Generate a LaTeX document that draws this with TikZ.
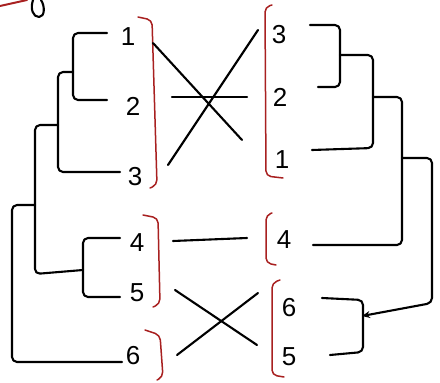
\documentclass[tikz,border=0pt]{standalone}
\usepackage{fontspec}
\setmainfont{Liberation Sans}
\usetikzlibrary{arrows.meta}
\definecolor{brk}{HTML}{A82020}
\begin{document}
\begin{tikzpicture}[x=1pt,y=-1pt, line cap=round, line join=round,
  tree/.style={draw=black, line width=2.1pt, rounded corners=5pt},
  link/.style={draw=black, line width=2.1pt},
  brk/.style={draw=brk, line width=1.5pt, rounded corners=5pt},
  lab/.style={font=\fontsize{26}{26}\selectfont, inner sep=0pt}]
\useasboundingbox (0,0) rectangle (440,383);
% corner fragments
\draw[brk, line width=2pt] (0,6) -- (27,0);
\draw[link] (33,0) .. controls (30,9) and (33,17) .. (39,17) .. controls (45,17) and (45,6) .. (41,0);
% labels left
\node[lab] (L1) at (128,37) {1};
\node[lab] (L2) at (133,106) {2};
\node[lab] (L3) at (135,177) {3};
\node[lab] (L4) at (137,243) {4};
\node[lab] (L5) at (137,293) {5};
\node[lab] (L6) at (133,356) {6};
% labels right
\node[lab] (R3) at (279,35) {3};
\node[lab] (R2) at (280,97) {2};
\node[lab] (R1) at (282,160) {1};
\node[lab] (R4) at (284,240) {4};
\node[lab] (R6) at (289,308) {6};
\node[lab] (R5) at (289,357) {5};
% left tree
\coordinate (a) at (73,72);
\coordinate (b) at (58,125);
\coordinate (c) at (83,270);
\coordinate (d) at (35,205);
\draw[tree] (107,33) -- (73,33) -- (73,100) -- (107,100);
\draw[tree] (a) -- (58,72) -- (58,172) -- (120,172);
\draw[tree] (b) -- (35,125) -- (35,274) -- (c);
\draw[tree] (120,238) -- (83,238) -- (83,297) -- (120,297);
\draw[tree] (d) -- (12,205) -- (12,362) -- (122,362);
% right tree
\coordinate (e) at (340,55);
\coordinate (f) at (373,97);
\coordinate (g) at (402,158);
\coordinate (h) at (362,316);
\draw[tree] (310,25) -- (340,25) -- (340,87) -- (318,87);
\draw[tree] (e) -- (373,55) -- (373,148) -- (312,150);
\draw[tree] (f) -- (402,97) -- (402,245) -- (313,245);
\draw[tree] (322,298) -- (363,300) -- (363,352) -- (330,355);
\draw[tree, -{Stealth[length=8pt,width=7pt]}] (g) -- (432,158) -- (432,303) -- (h);
% red brackets left
\draw[brk] (138,17) -- (152,20) -- (157,185) -- (150,188);
\draw[brk] (143,215) -- (158,218) -- (160,304) -- (153,307);
\draw[brk] (145,330) -- (160,335) -- (163,377) -- (157,380);
% red brackets right
\draw[brk] (272,5) -- (265,7) -- (266,176) -- (283,178);
\draw[brk] (272,213) -- (266,215) -- (266,263) -- (276,265);
\draw[brk] (280,280) -- (272,283) -- (272,375) -- (284,377);
% links
\coordinate (l1) at (153,43);  \coordinate (r1) at (242,140);
\coordinate (l2) at (172,97);  \coordinate (r2) at (247,97);
\coordinate (l3) at (168,165); \coordinate (r3) at (258,30);
\coordinate (l4) at (173,241); \coordinate (r4) at (247,238);
\coordinate (l5) at (175,290); \coordinate (r5) at (257,345);
\coordinate (l6) at (177,355); \coordinate (r6) at (258,293);
\draw[link] (l1) -- (r1);
\draw[link] (l2) -- (r2);
\draw[link] (l3) -- (r3);
\draw[link] (l4) -- (r4);
\draw[link] (l5) -- (r5);
\draw[link] (l6) -- (r6);
\end{tikzpicture}
\end{document}
